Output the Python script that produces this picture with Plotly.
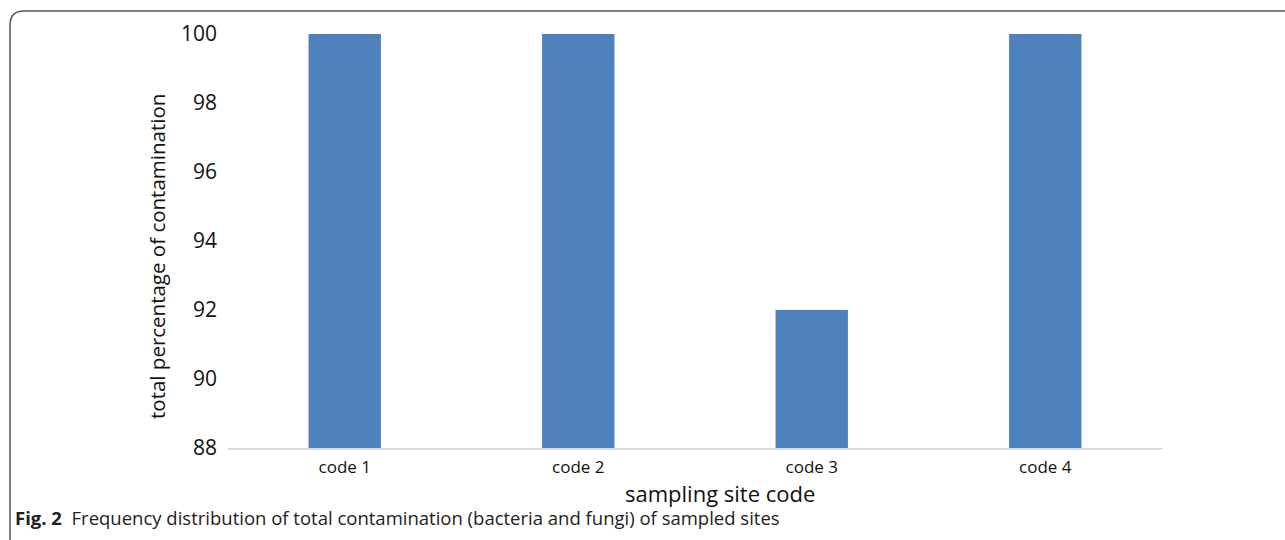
import plotly.graph_objects as go

categories = ["code 1", "code 2", "code 3", "code 4"]
values = [100, 100, 92, 100]
y_ticks = [88, 90, 92, 94, 96, 98, 100]
y_base = 88

W, H = 1285, 540
L, R, T, B = 228, 123, 34, 92
PW, PH = W - L - R, H - T - B


def px(x):
    return (x - L) / PW


def py(y):
    return (H - B - y) / PH


fig = go.Figure()
fig.add_trace(go.Bar(
    x=categories, y=[v - y_base for v in values], base=y_base,
    marker=dict(color="#4F81BD", line=dict(width=0)),
    width=0.31,
))

border = (f"M {px(1295)},{py(11)} L {px(24)},{py(11)} "
          f"Q {px(10)},{py(11)} {px(10)},{py(25)} L {px(10)},{py(550)}")

FONT = "Open Sans, Noto Sans, sans-serif"

fig.update_layout(
    width=W, height=H,
    margin=dict(l=L, r=R, t=T, b=B),
    paper_bgcolor="white", plot_bgcolor="white",
    showlegend=False,
    font=dict(family=FONT, color="#111"),
    xaxis=dict(
        type="category", range=[-0.5, 3.5],
        showline=True, linecolor="#d9d9d9", linewidth=2,
        showgrid=False, ticks="", ticklabelstandoff=3,
        tickfont=dict(size=17, color="#111"),
    ),
    yaxis=dict(
        range=[88, 100], tickvals=y_ticks,
        showgrid=False, zeroline=False, showline=False, ticks="",
        tickfont=dict(size=21, color="#111"), ticklabelstandoff=10,
    ),
    shapes=[dict(type="path", xref="paper", yref="paper", path=border,
                 line=dict(color="#555", width=1.5))],
    annotations=[
        dict(text="total percentage of contamination", textangle=-90,
             xref="paper", yref="paper", x=px(157), y=py(257),
             showarrow=False, font=dict(size=20.5, color="#111"),
             xanchor="center", yanchor="middle"),
        dict(text="sampling site code", xref="paper", yref="paper",
             x=px(720), y=py(493), showarrow=False,
             font=dict(size=22, color="#111"),
             xanchor="center", yanchor="middle"),
        dict(text="<b>Fig. 2</b>  Frequency distribution of total contamination (bacteria and fungi) of sampled sites",
             xref="paper", yref="paper", x=px(13), y=py(517),
             showarrow=False, font=dict(size=18.5, color="#222"),
             xanchor="left", yanchor="middle"),
    ],
)

fig.write_html("out.html", config={"displayModeBar": False},
               post_script="document.body.style.margin='0';")
